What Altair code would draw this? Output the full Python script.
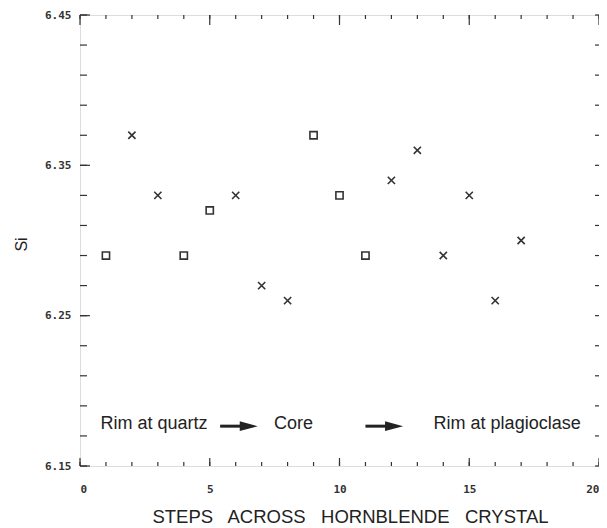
import altair as alt
import pandas as pd

# ---- data ----
steps = [1, 2, 3, 4, 5, 6, 7, 8, 9, 10, 11, 12, 13, 14, 15, 16, 17]
si = [6.29, 6.37, 6.33, 6.29, 6.32, 6.33, 6.27, 6.26, 6.37, 6.33, 6.29,
      6.34, 6.36, 6.29, 6.33, 6.26, 6.30]
marker = ["square", "cross", "cross", "square", "square", "cross", "cross",
          "cross", "square", "square", "square", "cross", "cross", "cross",
          "cross", "cross", "cross"]

x_major = [0, 5, 10, 15, 20]
x_minor = [0, 1, 2, 3, 4, 5, 6, 7, 8, 9, 10, 11, 12, 13, 14, 15, 16, 17, 18, 19, 20]
y_major = [6.15, 6.25, 6.35, 6.45]
y_minor = [6.15, 6.17, 6.19, 6.21, 6.23, 6.25, 6.27, 6.29, 6.31, 6.33,
           6.35, 6.37, 6.39, 6.41, 6.43, 6.45]

notes = ["Rim at quartz", "Core", "Rim at plagioclase"]
note_x = [2.85, 8.23, 16.46]
note_y = [6.178, 6.178, 6.178]
arrow_start = [5.4, 11.0]
arrow_end = [6.85, 12.45]
arrow_y = [6.1765, 6.1765]

x_title = "STEPS\u00a0\u00a0 ACROSS\u00a0\u00a0 HORNBLENDE\u00a0\u00a0 CRYSTAL"

W, H = 519, 451
INK = "#333333"

pts = pd.DataFrame({"step": steps, "si": si, "marker": marker})
notes_df = pd.DataFrame({"x": note_x, "y": note_y, "t": notes})
arrows_df = pd.DataFrame({"x": arrow_start, "x2": arrow_end, "y": arrow_y})

xs = alt.Scale(domain=[0, 20], nice=False, zero=False)
ys = alt.Scale(domain=[6.15, 6.45], nice=False, zero=False)

xax = alt.Axis(values=x_major, ticks=False, domain=False, grid=False,
               labelPadding=17, labelFont="DejaVu Sans Mono", labelFontWeight="bold",
               labelFontSize=11, labelColor=INK, labelFlush=3,
               title=x_title, titleFont="Liberation Sans",
               titleFontSize=18.5, titleFontWeight="normal", titleColor="#222222",
               titleX=270, titleY=50, titleBaseline="middle", titleAnchor="middle")
yax = alt.Axis(values=y_major, format=".2f", ticks=False, domain=False, grid=False,
               labelPadding=9, labelFont="DejaVu Sans Mono", labelFontWeight="bold",
               labelFontSize=11, labelColor=INK,
               title="Si", titleFont="Liberation Sans", titleFontSize=16,
               titleFontWeight="normal", titleColor="#222222",
               titleX=-59, titleY=229, titleBaseline="middle", titleAlign="center",
               labelFlush=False)

X = lambda f: alt.X(f, type="quantitative", scale=xs, axis=xax)
Y = lambda f: alt.Y(f, type="quantitative", scale=ys, axis=yax)

layers = []

def xticks(vals, y0, y1):
    return alt.Chart(pd.DataFrame({"v": vals})).mark_rule(color=INK, strokeWidth=1.2).encode(
        x=X("v"), y=alt.value(y0), y2=alt.value(y1))

def yticks(vals, x0, x1):
    return alt.Chart(pd.DataFrame({"v": vals})).mark_rule(color=INK, strokeWidth=1.2).encode(
        y=Y("v"), x=alt.value(x0), x2=alt.value(x1))

layers += [
    xticks(x_minor, H, H - 4), xticks(x_major, H, H - 8),
    xticks(x_minor, 0, 4), xticks(x_major, 0, 10),
    yticks(y_minor, 0, 7), yticks(y_major, 0, 10),
    yticks(y_minor, W, W - 4),
]

points = alt.Chart(pts).mark_point(filled=False, size=52, strokeWidth=1.6, color=INK, opacity=1).encode(
    x=X("step"), y=Y("si"),
    shape=alt.Shape("marker:N", legend=None,
                    scale=alt.Scale(domain=["square", "cross"],
                                    range=["square", "M-1,-1L1,1M-1,1L1,-1"])))

text = alt.Chart(notes_df).mark_text(font="Liberation Sans", fontSize=18, color="#222222",
                                     align="center", baseline="middle").encode(
    x=X("x"), y=Y("y"), text="t:N")

arrow_lines = alt.Chart(arrows_df).mark_rule(color="#222222", strokeWidth=3, x2Offset=-8).encode(
    x=X("x"), x2="x2", y=Y("y"))
arrow_heads = alt.Chart(arrows_df).mark_point(shape="M-1,-0.55L1,0L-1,0.55Z", filled=True,
                                              size=324, color="#222222", opacity=1,
                                              xOffset=-9).encode(
    x=X("x2"), y=Y("y"))

layers += [points, text, arrow_lines, arrow_heads]

chart = alt.layer(*layers).properties(
    width=W, height=H,
    autosize=alt.AutoSizeParams(type="none"),
    padding={"left": 72, "top": 7, "right": 0, "bottom": 62},
).configure_view(stroke="#555555", strokeWidth=1.5).configure(background="white")

chart.save("out.html", embed_options={"renderer": "svg", "actions": False})
